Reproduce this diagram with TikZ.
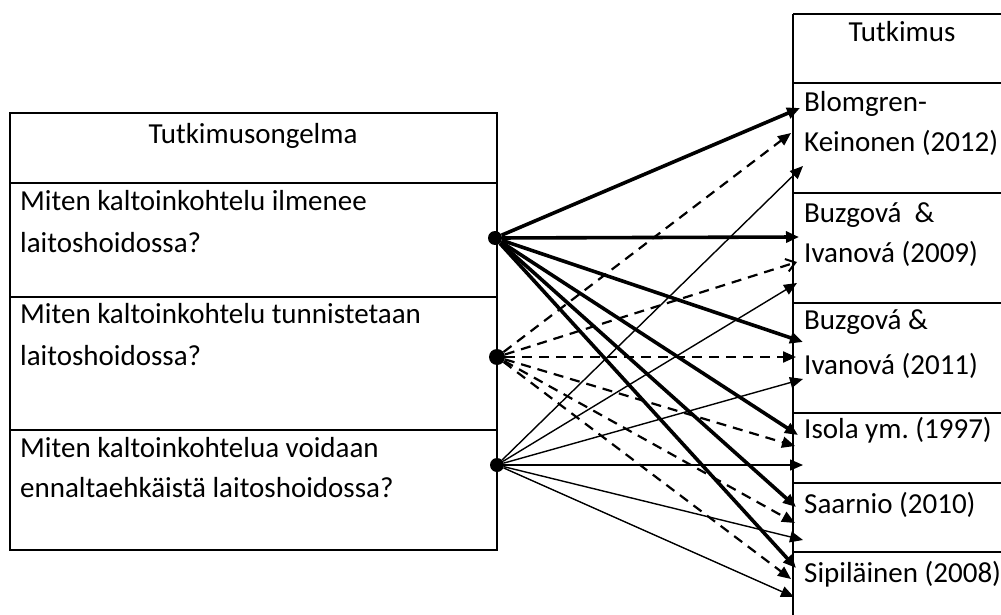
\documentclass[tikz,border=0pt]{standalone}
\usepackage{fontspec}
\setmainfont{Carlito}
\usetikzlibrary{arrows.meta}
\frenchspacing
\begin{document}
\begin{tikzpicture}[x=1pt,y=-1pt,
  grid/.style={line width=2pt},
  txt/.style={anchor=base west, inner sep=0pt, font=\fontsize{29}{42}\selectfont},
  ctxt/.style={anchor=base, inner sep=0pt, font=\fontsize{29}{42}\selectfont},
  dotn/.style={circle, fill=black, inner sep=0pt, minimum size=14pt},
  thickarr/.style={line width=3.6pt, -{Triangle[length=13pt,width=11pt]}},
  dasharr/.style={line width=2.2pt, dash pattern=on 10pt off 7pt, -{Triangle[length=13pt,width=11pt]}},
  openarr/.style={line width=2.2pt, dash pattern=on 10pt off 7pt, -{Straight Barb[length=9pt,width=13pt,line width=2pt]}},
  thinarr/.style={line width=1.4pt, -{Triangle[length=13pt,width=11pt]}},
]
\useasboundingbox (0,0) rectangle (1001,615);
\clip (0,0) rectangle (1001,615);
\fill[white] (0,0) rectangle (1001,615);

% left table
\draw[grid] (10,113) rectangle (497,550);
\draw[grid] (10,183) -- (497,183);
\draw[grid] (10,297) -- (497,297);
\draw[grid] (10,430) -- (497,430);
\node[ctxt] (lh) at (253,143) {Tutkimusongelma};
\node[txt] (l1a) at (20,210) {Miten kaltoinkohtelu ilmenee};
\node[txt] (l1b) at (20,252) {laitoshoidossa?};
\node[txt] (l2a) at (20,323) {Miten kaltoinkohtelu tunnistetaan};
\node[txt] (l2b) at (20,365) {laitoshoidossa?};
\node[txt] (l3a) at (20,457) {Miten kaltoinkohtelua voidaan};
\node[txt] (l3b) at (20,497) {ennaltaehkäistä laitoshoidossa?};

% right table
\draw[grid] (793,14) -- (793,615);
\foreach \yy in {14,83,193,303,413,483,552} {\draw[grid] (793,\yy) -- (1005,\yy);}
\node[ctxt] (rh) at (902,42) {Tutkimus};
\node[txt] (r1a) at (804,112) {Blomgren-};
\node[txt] (r1b) at (804,152) {Keinonen (2012)};
\node[txt] (r2a) at (804,222) {Buzgová\ \ \&};
\node[txt] (r2b) at (804,262) {Ivanová (2009)};
\node[txt] (r3a) at (804,329) {Buzgová \&};
\node[txt] (r3b) at (804,374) {Ivanová (2011)};
\node[txt] (r4) at (804,438) {Isola ym. (1997)};
\node[txt] (r5) at (804,513) {Saarnio (2010)};
\node[txt] (r6) at (804,582) {Sipiläinen (2008)};

% dots
\node[dotn] (d1) at (495,238) {};
\node[dotn, minimum width=14pt, minimum height=16pt] (d2) at (497,357) {};
\node[dotn] (d3) at (497,465) {};

% arrow tips
\coordinate (a1) at (800,108);
\coordinate (a2) at (799,237);
\coordinate (a3) at (803,342);
\coordinate (a4) at (798,435);
\coordinate (a5) at (796,507);
\coordinate (a6) at (796,568);

\coordinate (b1) at (791,133);
\coordinate (b2) at (797,262);
\coordinate (b3) at (796,357);
\coordinate (b4) at (795,446);
\coordinate (b5) at (795,523);
\coordinate (b6) at (791,579);

\coordinate (c1) at (803,166);
\coordinate (c2) at (797,283);
\coordinate (c3) at (803,379);
\coordinate (c4) at (803,465);
\coordinate (c5) at (803,540);
\coordinate (c6) at (794,597);

% thin arrows from question 3
\foreach \t in {c1,c2,c3,c4,c5,c6} {\draw[thinarr] (d3) -- (\t);}
% dashed arrows from question 2
\foreach \t in {b1,b3,b4,b5,b6} {\draw[dasharr] (d2) -- (\t);}
\draw[openarr] (d2) -- (b2);
% thick arrows from question 1
\foreach \t in {a1,a2,a3,a4,a5,a6} {\draw[thickarr] (d1) -- (\t);}
\end{tikzpicture}
\end{document}
